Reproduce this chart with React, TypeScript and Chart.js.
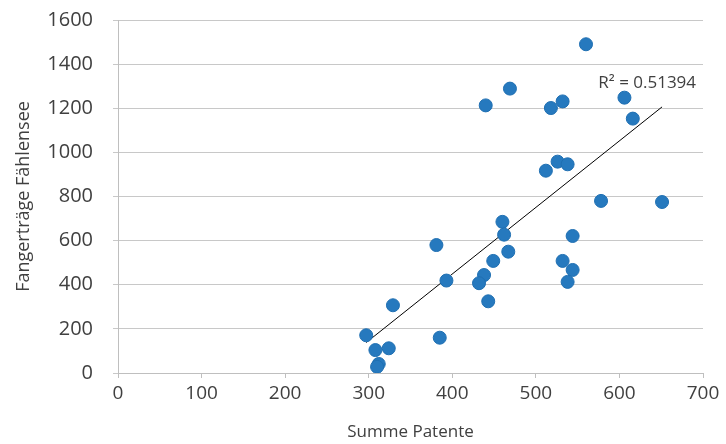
import React, { useEffect, useRef } from "react";
import { Chart, registerables } from "chart.js";

Chart.register(...registerables);

const patente: number[] = [
  560, 606, 616, 469, 440, 518, 532, 526, 538, 512, 578, 651, 460, 462, 544, 381,
  467, 449, 532, 544, 538, 438, 432, 393, 443, 329, 297, 385, 308, 324, 312, 310,
];
const fangertraege: number[] = [
  1490, 1248, 1153, 1289, 1213, 1201, 1231, 958, 946, 917, 780, 775, 685, 627, 621, 580,
  550, 508, 508, 467, 413, 444, 407, 419, 325, 307, 171, 160, 104, 112, 41, 28,
];
const xTicks: number[] = [0, 100, 200, 300, 400, 500, 600, 700];
const yTicks: number[] = [0, 200, 400, 600, 800, 1000, 1200, 1400, 1600];
const rSquaredLabel = "R² = 0.51394";
const xTitle = "Summe Patente";
const yTitle = "Fangerträge Fählensee";

function regression(xs: number[], ys: number[]) {
  const n = xs.length;
  const mx = xs.reduce((a, b) => a + b, 0) / n;
  const my = ys.reduce((a, b) => a + b, 0) / n;
  let sxy = 0;
  let sxx = 0;
  for (let i = 0; i < n; i++) {
    sxy += (xs[i] - mx) * (ys[i] - my);
    sxx += (xs[i] - mx) * (xs[i] - mx);
  }
  const slope = sxy / sxx;
  return { slope, intercept: my - slope * mx };
}

export default function App() {
  const ref = useRef<HTMLCanvasElement | null>(null);

  useEffect(() => {
    document.body.style.margin = "0";
    const canvas = ref.current;
    if (!canvas) return;
    const points = patente.map((x, i) => ({ x, y: fangertraege[i] }));
    const { slope, intercept } = regression(patente, fangertraege);
    const xMin = Math.min(...patente);
    const xMax = Math.max(...patente);
    const trend = [
      { x: xMin, y: intercept + slope * xMin },
      { x: xMax, y: intercept + slope * xMax },
    ];
    const font = "'Open Sans', 'Noto Sans', sans-serif";
    const textColor = "#404040";

    const labelPlugin = {
      id: "r2label",
      afterDatasetsDraw(chart: any) {
        const { ctx, scales } = chart;
        const px = scales.x.getPixelForValue(trend[1].x);
        const py = scales.y.getPixelForValue(trend[1].y);
        ctx.save();
        ctx.font = `17px ${font}`;
        ctx.fillStyle = textColor;
        ctx.textAlign = "right";
        ctx.textBaseline = "middle";
        ctx.fillText(rSquaredLabel, px + 34, py - 24);
        ctx.restore();
      },
    };

    const chart = new Chart(canvas, {
      type: "scatter",
      data: {
        datasets: [
          {
            type: "line",
            data: trend,
            borderColor: "#000000",
            borderWidth: 1,
            pointRadius: 0,
            fill: false,
            order: 2,
          } as any,
          {
            data: points,
            backgroundColor: "#2679BE",
            borderColor: "#1F6FB2",
            borderWidth: 1,
            pointRadius: 6.5,
            order: 1,
          },
        ],
      },
      options: {
        animation: false,
        responsive: false,
        maintainAspectRatio: false,
        layout: { padding: { top: 20, right: 23, left: 0, bottom: 0 } },
        plugins: {
          legend: { display: false },
          tooltip: { enabled: false },
        },
        scales: {
          x: {
            type: "linear",
            min: 0,
            max: 700,
            afterBuildTicks: (s: any) => {
              s.ticks = xTicks.map((v) => ({ value: v }));
            },
            afterFit: (s: any) => {
              s.height = 71;
              s.paddingLeft = 0;
              s.paddingRight = 0;
            },
            grid: {
              display: true,
              drawOnChartArea: false,
              drawTicks: true,
              tickLength: 5,
              color: "#BFBFBF",
            },
            border: { color: "#BFBFBF", width: 1 },
            ticks: {
              color: textColor,
              font: { family: font, size: 19 },
              padding: 4,
              maxRotation: 0,
              callback: (v: any) => String(v),
            },
            title: {
              display: true,
              text: xTitle,
              color: textColor,
              font: { family: font, size: 17 },
              padding: { top: 0, bottom: 2 },
            },
          },
          y: {
            type: "linear",
            min: 0,
            max: 1600,
            afterBuildTicks: (s: any) => {
              s.ticks = yTicks.map((v) => ({ value: v }));
            },
            afterFit: (s: any) => {
              s.width = 118;
              s.paddingTop = 0;
              s.paddingBottom = 0;
            },
            grid: {
              color: "#C8C8C8",
              lineWidth: 1,
              tickLength: 5,
            },
            border: { color: "#BFBFBF", width: 1 },
            ticks: {
              color: textColor,
              font: { family: font, size: 20 },
              padding: 20,
              callback: (v: any) => String(v),
            },
            title: {
              display: true,
              text: yTitle,
              color: textColor,
              font: { family: font, size: 18 },
              padding: { top: 13, bottom: 0 },
            },
          },
        },
      },
      plugins: [labelPlugin],
    });
    return () => chart.destroy();
  }, []);

  return (
    <div style={{ width: 726, height: 444 }}>
      <canvas ref={ref} width={726} height={444} style={{ display: "block" }} />
    </div>
  );
}
